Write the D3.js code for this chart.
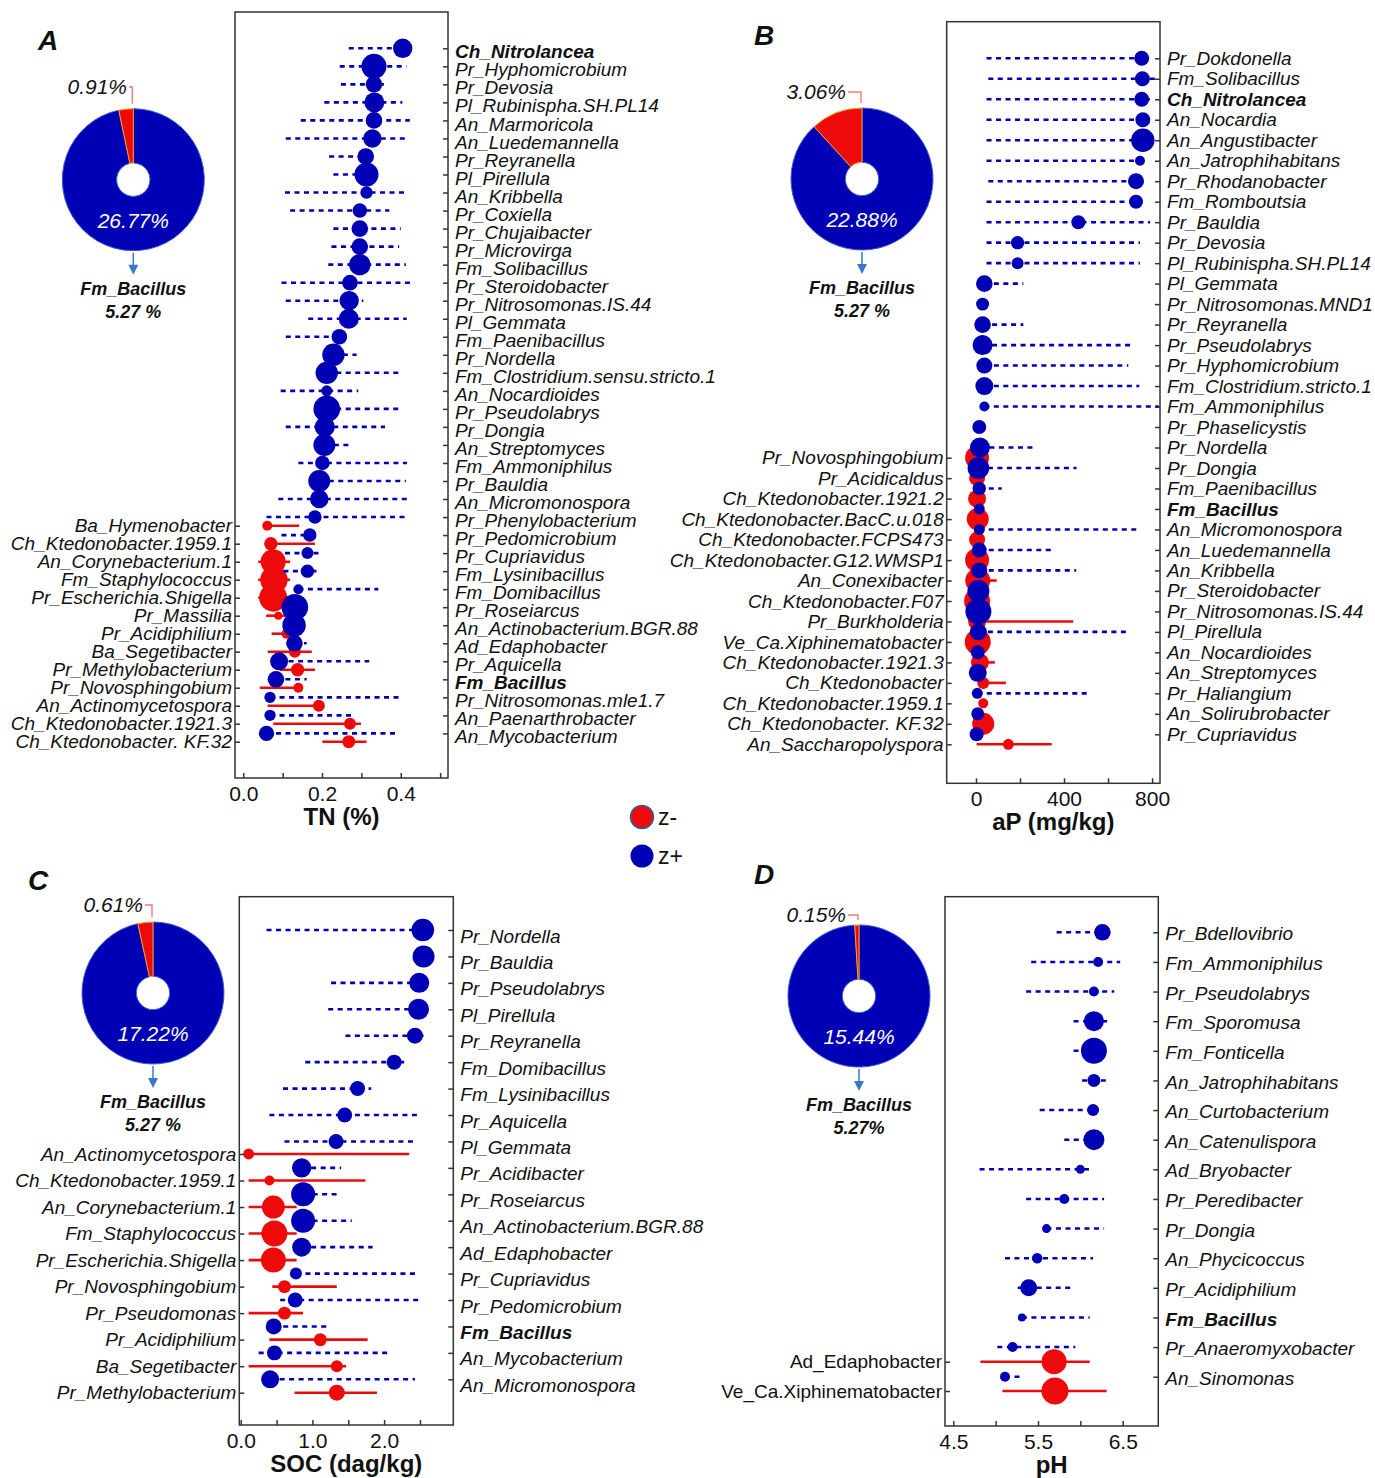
<!DOCTYPE html>
<html lang="en">
<head>
<meta charset="UTF-8">
<title>z-score genera</title>
<script src="https://cdn.jsdelivr.net/npm/d3@7"></script>
<style>
  body { margin: 0; background: #fff; }
  svg { font-family: "Liberation Sans", Arial, Helvetica, sans-serif; }
  .lab { font-size: 19px; font-style: italic; fill: #111; }
  .lab.upright { font-style: normal; }
  .lab.bold { font-weight: bold; }
  .xtick text { font-size: 21px; fill: #111; }
  .ax-title { font-size: 24px; font-weight: bold; fill: #111; }
  .letter { font-size: 28px; font-weight: bold; font-style: italic; fill: #111; }
  .pie-out { font-size: 21px; font-style: italic; fill: #111; }
  .pie-in { font-size: 21px; font-style: italic; fill: #fff; }
  .bac { font-size: 18px; font-weight: bold; font-style: italic; fill: #111; }
  .legend { font-size: 23px; fill: #111; }
</style>
</head>
<body>
<svg id="chart" width="1375" height="1478"></svg>
<script>
// ---------- data ----------
// panel A : TN (%)
const aPosNames = ["Ch_Nitrolancea", "Pr_Hyphomicrobium", "Pr_Devosia", "Pl_Rubinispha.SH.PL14", "An_Marmoricola",
  "An_Luedemannella", "Pr_Reyranella", "Pl_Pirellula", "An_Kribbella", "Pr_Coxiella", "Pr_Chujaibacter", "Pr_Microvirga",
  "Fm_Solibacillus", "Pr_Steroidobacter", "Pr_Nitrosomonas.IS.44", "Pl_Gemmata", "Fm_Paenibacillus", "Pr_Nordella",
  "Fm_Clostridium.sensu.stricto.1", "An_Nocardioides", "Pr_Pseudolabrys", "Pr_Dongia", "An_Streptomyces",
  "Fm_Ammoniphilus", "Pr_Bauldia", "An_Micromonospora", "Pr_Phenylobacterium", "Pr_Pedomicrobium", "Pr_Cupriavidus",
  "Fm_Lysinibacillus", "Fm_Domibacillus", "Pr_Roseiarcus", "An_Actinobacterium.BGR.88", "Ad_Edaphobacter",
  "Pr_Aquicella", "Fm_Bacillus", "Pr_Nitrosomonas.mle1.7", "An_Paenarthrobacter", "An_Mycobacterium"];
const aPosMean = [0.405, 0.332, 0.332, 0.333, 0.332, 0.328, 0.311, 0.313, 0.313, 0.296, 0.296, 0.296, 0.296, 0.271,
  0.269, 0.268, 0.244, 0.229, 0.212, 0.212, 0.212, 0.207, 0.206, 0.201, 0.193, 0.193, 0.182, 0.169, 0.163, 0.163,
  0.140, 0.131, 0.129, 0.130, 0.091, 0.083, 0.068, 0.068, 0.059];
const aPosLo = [0.268, 0.245, 0.248, 0.206, 0.146, 0.108, 0.218, 0.229, 0.106, 0.119, 0.229, 0.224, 0.216, 0.097,
  0.108, 0.165, 0.108, 0.229, 0.212, 0.095, 0.212, 0.108, 0.206, 0.140, 0.193, 0.089, 0.059, 0.097, 0.106, 0.102,
  0.140, 0.131, 0.129, 0.130, 0.091, 0.083, 0.068, 0.068, 0.059];
const aPosHi = [0.405, 0.415, 0.364, 0.404, 0.423, 0.413, 0.311, 0.343, 0.410, 0.371, 0.400, 0.396, 0.413, 0.430,
  0.305, 0.415, 0.244, 0.288, 0.400, 0.292, 0.400, 0.360, 0.267, 0.416, 0.413, 0.419, 0.416, 0.169, 0.199, 0.186,
  0.343, 0.131, 0.129, 0.161, 0.320, 0.161, 0.402, 0.278, 0.389];
const aPosSize = [94, 156, 69, 100, 69, 85, 69, 144, 38, 53, 69, 69, 114, 61, 94, 100, 61, 125, 125, 30, 177, 100,
  121, 53, 121, 86, 45, 45, 36, 45, 25, 177, 137, 69, 81, 69, 32, 32, 59];
const aNegNames = ["Ba_Hymenobacter", "Ch_Ktedonobacter.1959.1", "An_Corynebacterium.1", "Fm_Staphylococcus",
  "Pr_Escherichia.Shigella", "Pr_Massilia", "Pr_Acidiphilium", "Ba_Segetibacter", "Pr_Methylobacterium",
  "Pr_Novosphingobium", "An_Actinomycetospora", "Ch_Ktedonobacter.1921.3", "Ch_Ktedonobacter. KF.32"];
const aNegMean = [0.061, 0.070, 0.076, 0.078, 0.076, 0.089, 0.110, 0.131, 0.138, 0.140, 0.192, 0.271, 0.268];
const aNegLo = [0.061, 0.070, 0.038, 0.038, 0.038, 0.058, 0.072, 0.062, 0.093, 0.042, 0.062, 0.076, 0.201];
const aNegHi = [0.142, 0.182, 0.119, 0.119, 0.114, 0.114, 0.148, 0.174, 0.182, 0.148, 0.203, 0.299, 0.313];
const aNegSize = [25, 45, 156, 188, 196, 16, 25, 36, 45, 25, 36, 36, 42];
const aTicks = [0, 0.1, 0.2, 0.3, 0.4, 0.5];
const aTickLabels = ["0.0", "", "0.2", "", "0.4", ""];

// panel B : aP (mg/kg)
const bPosNames = ["Pr_Dokdonella", "Fm_Solibacillus", "Ch_Nitrolancea", "An_Nocardia", "An_Angustibacter",
  "An_Jatrophihabitans", "Pr_Rhodanobacter", "Fm_Romboutsia", "Pr_Bauldia", "Pr_Devosia", "Pl_Rubinispha.SH.PL14",
  "Pl_Gemmata", "Pr_Nitrosomonas.MND1", "Pr_Reyranella", "Pr_Pseudolabrys", "Pr_Hyphomicrobium",
  "Fm_Clostridium.stricto.1", "Fm_Ammoniphilus", "Pr_Phaselicystis", "Pr_Nordella", "Pr_Dongia", "Fm_Paenibacillus",
  "Fm_Bacillus", "An_Micromonospora", "An_Luedemannella", "An_Kribbella", "Pr_Steroidobacter",
  "Pr_Nitrosomonas.IS.44", "Pl_Pirellula", "An_Nocardioides", "An_Streptomyces", "Pr_Haliangium",
  "An_Solirubrobacter", "Pr_Cupriavidus"];
const bPosMean = [753, 756, 753, 758, 758, 745, 727, 727, 465, 189, 189, 38, 30, 30, 30, 38, 38, 38, 15, 18, 11, 15,
  15, 15, 15, 15, 11, 11, 11, 8, 8, 6, 8, 3];
const bPosLo = [48, 56, 48, 48, 48, 48, 56, 48, 48, 48, 48, 38, 30, 30, 30, 38, 38, 38, 15, 18, 11, 15, 15, 15, 15,
  15, 11, 11, 11, 8, 8, 6, 8, 3];
const bPosHi = [753, 830, 790, 758, 758, 745, 727, 727, 791, 745, 745, 215, 30, 215, 715, 692, 742, 830, 15, 260,
  457, 117, 15, 742, 359, 455, 11, 11, 692, 8, 8, 503, 8, 3];
const bPosSize = [56, 56, 56, 56, 137, 25, 64, 49, 49, 45, 36, 69, 42, 69, 100, 64, 81, 25, 49, 100, 117, 45, 30, 30,
  56, 64, 121, 169, 72, 49, 81, 30, 42, 49];
const bNegNames = ["Pr_Novosphingobium", "Pr_Acidicaldus", "Ch_Ktedonobacter.1921.2", "Ch_Ktedonobacter.BacC.u.018",
  "Ch_Ktedonobacter.FCPS473", "Ch_Ktedonobacter.G12.WMSP1", "An_Conexibacter", "Ch_Ktedonobacter.F07",
  "Pr_Burkholderia", "Ve_Ca.Xiphinematobacter", "Ch_Ktedonobacter.1921.3", "Ch_Ktedonobacter",
  "Ch_Ktedonobacter.1959.1", "Ch_Ktedonobacter. KF.32", "An_Saccharopolyspora"];
const bNegMean = [5, 5, 5, 8, 5, 5, 8, 5, 5, 8, 18, 33, 33, 33, 147];
const bNegLo = [5, 5, 5, 8, 5, 5, 8, 5, 5, 8, 18, 33, 33, 33, 3];
const bNegHi = [5, 5, 5, 8, 5, 5, 94, 5, 442, 8, 86, 136, 33, 33, 344];
const bNegSize = [144, 64, 81, 121, 64, 144, 156, 169, 81, 169, 81, 36, 25, 121, 30];
const bTicks = [0, 200, 400, 600, 800];
const bTickLabels = ["0", "", "400", "", "800"];

// panel C : SOC (dag/kg)
const cPosNames = ["Pr_Nordella", "Pr_Bauldia", "Pr_Pseudolabrys", "Pl_Pirellula", "Pr_Reyranella", "Fm_Domibacillus",
  "Fm_Lysinibacillus", "Pr_Aquicella", "Pl_Gemmata", "Pr_Acidibacter", "Pr_Roseiarcus", "An_Actinobacterium.BGR.88",
  "Ad_Edaphobacter", "Pr_Cupriavidus", "Pr_Pedomicrobium", "Fm_Bacillus", "An_Mycobacterium", "An_Micromonospora"];
const cPosMean = [2.54, 2.55, 2.49, 2.48, 2.43, 2.14, 1.63, 1.45, 1.33, 0.85, 0.87, 0.87, 0.85, 0.77, 0.76, 0.46,
  0.47, 0.41];
const cPosLo = [0.36, 2.55, 1.26, 1.22, 1.46, 0.90, 0.59, 0.40, 0.61, 0.85, 0.87, 0.87, 0.85, 0.77, 0.55, 0.46, 0.25,
  0.41];
const cPosHi = [2.54, 2.55, 2.49, 2.48, 2.55, 2.28, 1.82, 2.52, 2.43, 1.40, 1.40, 1.55, 1.84, 2.43, 2.52, 1.25, 2.08,
  2.43];
const cPosSize = [128, 121, 100, 110, 64, 56, 56, 56, 56, 94, 144, 144, 90, 36, 56, 64, 56, 81];
const cNegNames = ["An_Actinomycetospora", "Ch_Ktedonobacter.1959.1", "An_Corynebacterium.1", "Fm_Staphylococcus",
  "Pr_Escherichia.Shigella", "Pr_Novosphingobium", "Pr_Pseudomonas", "Pr_Acidiphilium", "Ba_Segetibacter",
  "Pr_Methylobacterium"];
const cNegMean = [0.11, 0.40, 0.455, 0.47, 0.455, 0.61, 0.61, 1.11, 1.34, 1.34];
const cNegLo = [0.11, 0.11, 0.11, 0.11, 0.11, 0.44, 0.11, 0.40, 0.11, 0.75];
const cNegHi = [2.35, 1.74, 0.78, 0.78, 0.78, 1.34, 0.87, 1.77, 1.47, 1.90];
const cNegSize = [30, 25, 132, 169, 156, 42, 42, 42, 36, 64];
const cTicks = [0, 0.5, 1, 1.5, 2, 2.5];
const cTickLabels = ["0.0", "", "1.0", "", "2.0", ""];

// panel D : pH
const dPosNames = ["Pr_Bdellovibrio", "Fm_Ammoniphilus", "Pr_Pseudolabrys", "Fm_Sporomusa", "Fm_Fonticella",
  "An_Jatrophihabitans", "An_Curtobacterium", "An_Catenulispora", "Ad_Bryobacter", "Pr_Peredibacter", "Pr_Dongia",
  "An_Phycicoccus", "Pr_Acidiphilium", "Fm_Bacillus", "Pr_Anaeromyxobacter", "An_Sinomonas"];
const dPosMean = [6.26, 6.21, 6.16, 6.16, 6.16, 6.16, 6.15, 6.16, 6.00, 5.81, 5.60, 5.49, 5.39, 5.31, 5.20, 5.11];
const dPosLo = [5.72, 5.42, 5.36, 5.92, 5.92, 6.02, 5.52, 5.81, 4.81, 5.36, 5.60, 5.11, 5.26, 5.31, 5.02, 5.11];
const dPosHi = [6.26, 6.47, 6.40, 6.34, 6.16, 6.30, 6.15, 6.16, 6.11, 6.28, 6.28, 6.15, 5.92, 6.11, 5.94, 5.29];
const dPosSize = [69, 25, 25, 100, 169, 42, 36, 110, 20, 25, 20, 28, 72, 16, 25, 25];
const dNegNames = ["Ad_Edaphobacter", "Ve_Ca.Xiphinematobacter"];
const dNegMean = [5.69, 5.70];
const dNegLo = [4.82, 5.08];
const dNegHi = [6.11, 6.31];
const dNegSize = [156, 182];
const dTicks = [4.5, 5, 5.5, 6, 6.5];
const dTickLabels = ["4.5", "", "5.5", "", "6.5"];

// donut shares (z- / z+) and Bacillus share
const pieNeg = [0.91, 3.06, 0.61, 0.15];
const piePos = [26.77, 22.88, 17.22, 15.44];
const bacillusLabel = ["5.27 %", "5.27 %", "5.27 %", "5.27%"];
const boldNames = ["Ch_Nitrolancea", "Fm_Bacillus"];

// ---------- drawing ----------
const BLUE = "#0000b4", RED = "#ee0a0a";
const svg = d3.select("#chart");
const rScale = d3.scaleSqrt().domain([0, 196]).range([0, 14]);

const panels = [
  { letter: "A", lx: 38, ly: 50, title: "TN (%)", labDy: 3.5,
    box: [235, 448, 12, 778], xDomain: [-0.021, 0.52], posRange: [48.3, 733.4], negRange: [525.7, 741.7],
    ticks: aTicks, tickLabels: aTickLabels,
    pos: [aPosNames, aPosMean, aPosLo, aPosHi, aPosSize], neg: [aNegNames, aNegMean, aNegLo, aNegHi, aNegSize],
    negItalic: true, pie: { cx: 133.3, cy: 179.7, tx: 127, ty: 94 } },
  { letter: "B", lx: 754, ly: 45, title: "aP (mg/kg)", labDy: 0,
    box: [946.7, 1160, 21.7, 783.3], xDomain: [-133, 836], posRange: [58.3, 734.3], negRange: [457.7, 744.3],
    ticks: bTicks, tickLabels: bTickLabels,
    pos: [bPosNames, bPosMean, bPosLo, bPosHi, bPosSize], neg: [bNegNames, bNegMean, bNegLo, bNegHi, bNegSize],
    negItalic: true, pie: { cx: 862, cy: 179, tx: 846, ty: 99 } },
  { letter: "C", lx: 28, ly: 890, title: "SOC (dag/kg)", labDy: 6,
    box: [239.3, 453.3, 896.7, 1425], xDomain: [-0.02, 2.965], posRange: [930, 1379.3], negRange: [1154, 1392.7],
    ticks: cTicks, tickLabels: cTickLabels,
    pos: [cPosNames, cPosMean, cPosLo, cPosHi, cPosSize], neg: [cNegNames, cNegMean, cNegLo, cNegHi, cNegSize],
    negItalic: true, pie: { cx: 153, cy: 993, tx: 143, ty: 912 } },
  { letter: "D", lx: 754, ly: 884, title: "pH", labDy: 1.5,
    box: [945, 1158.3, 896.7, 1426], xDomain: [4.402, 6.92], posRange: [932.3, 1376.7], negRange: [1361.7, 1391],
    ticks: dTicks, tickLabels: dTickLabels,
    pos: [dPosNames, dPosMean, dPosLo, dPosHi, dPosSize], neg: [dNegNames, dNegMean, dNegLo, dNegHi, dNegSize],
    negItalic: false, pie: { cx: 859, cy: 996, tx: 846, ty: 922 } }
];

panels.forEach((p, k) => {
  const [x0, x1, y0, y1] = p.box;
  const g = svg.append("g");
  const x = d3.scaleLinear().domain(p.xDomain).range([x0, x1]);
  const [pN, pM, pL, pH, pS] = p.pos;
  const [nN, nM, nL, nH, nS] = p.neg;
  const yPos = d3.scalePoint().domain(d3.range(pN.length)).range(p.posRange);
  const yNeg = d3.scalePoint().domain(d3.range(nN.length)).range(p.negRange);

  g.append("rect").attr("x", x0).attr("y", y0).attr("width", x1 - x0).attr("height", y1 - y0)
    .attr("fill", "none").attr("stroke", "#333").attr("stroke-width", 1.5);

  // bottom axis
  const xa = g.append("g").attr("class", "xtick").attr("transform", `translate(0,${y1})`)
    .call(d3.axisBottom(x).tickValues(p.ticks).tickSize(-5).tickPadding(8)
      .tickFormat((d, i) => p.tickLabels[i]));
  xa.select(".domain").remove();
  xa.selectAll("line").attr("stroke", "#333").attr("stroke-width", 1.5);
  xa.selectAll("text").attr("font-family", null).attr("font-size", null);

  // right axis (z+)
  const ra = g.append("g").attr("transform", `translate(${x1},0)`)
    .call(d3.axisRight(yPos).tickSize(-5).tickPadding(7).tickFormat(i => pN[i]));
  ra.select(".domain").remove();
  ra.selectAll("line").attr("stroke", "#333").attr("stroke-width", 1.5);
  ra.selectAll("text").attr("font-family", null).attr("font-size", null)
    .attr("y", p.labDy)
    .attr("class", i => "lab" + (boldNames.includes(pN[i]) ? " bold" : ""));

  // left axis (z-)
  const la = g.append("g").attr("transform", `translate(${x0},0)`)
    .call(d3.axisLeft(yNeg).tickSize(-5).tickPadding(3).tickFormat(i => nN[i]));
  la.select(".domain").remove();
  la.selectAll("line").attr("stroke", "#333").attr("stroke-width", 1.5);
  la.selectAll("text").attr("font-family", null).attr("font-size", null)
    .attr("class", "lab" + (p.negItalic ? "" : " upright"));

  // z- (red)
  g.append("g").selectAll("line").data(d3.range(nN.length)).join("line")
    .attr("x1", i => x(nL[i])).attr("x2", i => x(nH[i]))
    .attr("y1", i => yNeg(i)).attr("y2", i => yNeg(i))
    .attr("stroke", RED).attr("stroke-width", 2.6);
  g.append("g").selectAll("circle").data(d3.range(nN.length)).join("circle")
    .attr("cx", i => x(nM[i])).attr("cy", i => yNeg(i)).attr("r", i => rScale(nS[i]))
    .attr("fill", RED);

  // z+ (blue)
  g.append("g").selectAll("line").data(d3.range(pN.length)).join("line")
    .attr("x1", i => x(pL[i])).attr("x2", i => x(pH[i]))
    .attr("y1", i => yPos(i)).attr("y2", i => yPos(i))
    .attr("stroke", BLUE).attr("stroke-width", 2.6).attr("stroke-dasharray", "5,4.5");
  g.append("g").selectAll("circle").data(d3.range(pN.length)).join("circle")
    .attr("cx", i => x(pM[i])).attr("cy", i => yPos(i)).attr("r", i => rScale(pS[i]))
    .attr("fill", BLUE);

  // axis title & panel letter
  g.append("text").attr("class", "ax-title").attr("x", (x0 + x1) / 2).attr("y", y1 + 47)
    .attr("text-anchor", "middle").text(p.title);
  g.append("text").attr("class", "letter").attr("x", p.lx).attr("y", p.ly).text(p.letter);

  // donut
  const pc = p.pie, R = 71;
  const pg = g.append("g").attr("transform", `translate(${pc.cx},${pc.cy})`);
  const pie = d3.pie().sort(null)([piePos[k], pieNeg[k]]);
  const arc = d3.arc().innerRadius(16.7).outerRadius(R);
  pg.selectAll("path").data(pie).join("path").attr("d", arc)
    .attr("fill", (d, i) => i === 0 ? BLUE : RED)
    .attr("stroke", (d, i) => i === 0 ? "#3b5bd6" : "#f5a623").attr("stroke-width", 1);
  pg.append("text").attr("class", "pie-in").attr("x", 0).attr("y", 48).attr("text-anchor", "middle")
    .text(piePos[k].toFixed(2) + "%");
  g.append("text").attr("class", "pie-out").attr("x", pc.tx).attr("y", pc.ty).attr("text-anchor", "end")
    .text(pieNeg[k].toFixed(2) + "%");
  g.append("path").attr("d", `M${pc.tx + 2},${pc.ty - 7}H${pc.cx - 1}V${pc.cy - R - 5}`)
    .attr("fill", "none").attr("stroke", "#f07a7a").attr("stroke-width", 1.4);
  // arrow to Bacillus
  g.append("line").attr("x1", pc.cx).attr("x2", pc.cx).attr("y1", pc.cy + R + 2).attr("y2", pc.cy + R + 16)
    .attr("stroke", "#3a78d0").attr("stroke-width", 1.5);
  g.append("path").attr("d", `M${pc.cx - 5},${pc.cy + R + 14}L${pc.cx + 5},${pc.cy + R + 14}L${pc.cx},${pc.cy + R + 24}Z`)
    .attr("fill", "#3a78d0");
  g.append("text").attr("class", "bac").attr("x", pc.cx).attr("y", pc.cy + 115).attr("text-anchor", "middle")
    .text("Fm_Bacillus");
  g.append("text").attr("class", "bac").attr("x", pc.cx).attr("y", pc.cy + 138).attr("text-anchor", "middle")
    .text(bacillusLabel[k]);
});

// legend
const leg = svg.append("g");
leg.append("circle").attr("cx", 642).attr("cy", 817).attr("r", 11.5).attr("fill", RED)
  .attr("stroke", "#2f5f9e").attr("stroke-width", 1.5);
leg.append("text").attr("class", "legend").attr("x", 658).attr("y", 825).text("z-");
leg.append("circle").attr("cx", 642).attr("cy", 856).attr("r", 11.5).attr("fill", BLUE);
leg.append("text").attr("class", "legend").attr("x", 658).attr("y", 864).text("z+");
</script>
</body>
</html>
